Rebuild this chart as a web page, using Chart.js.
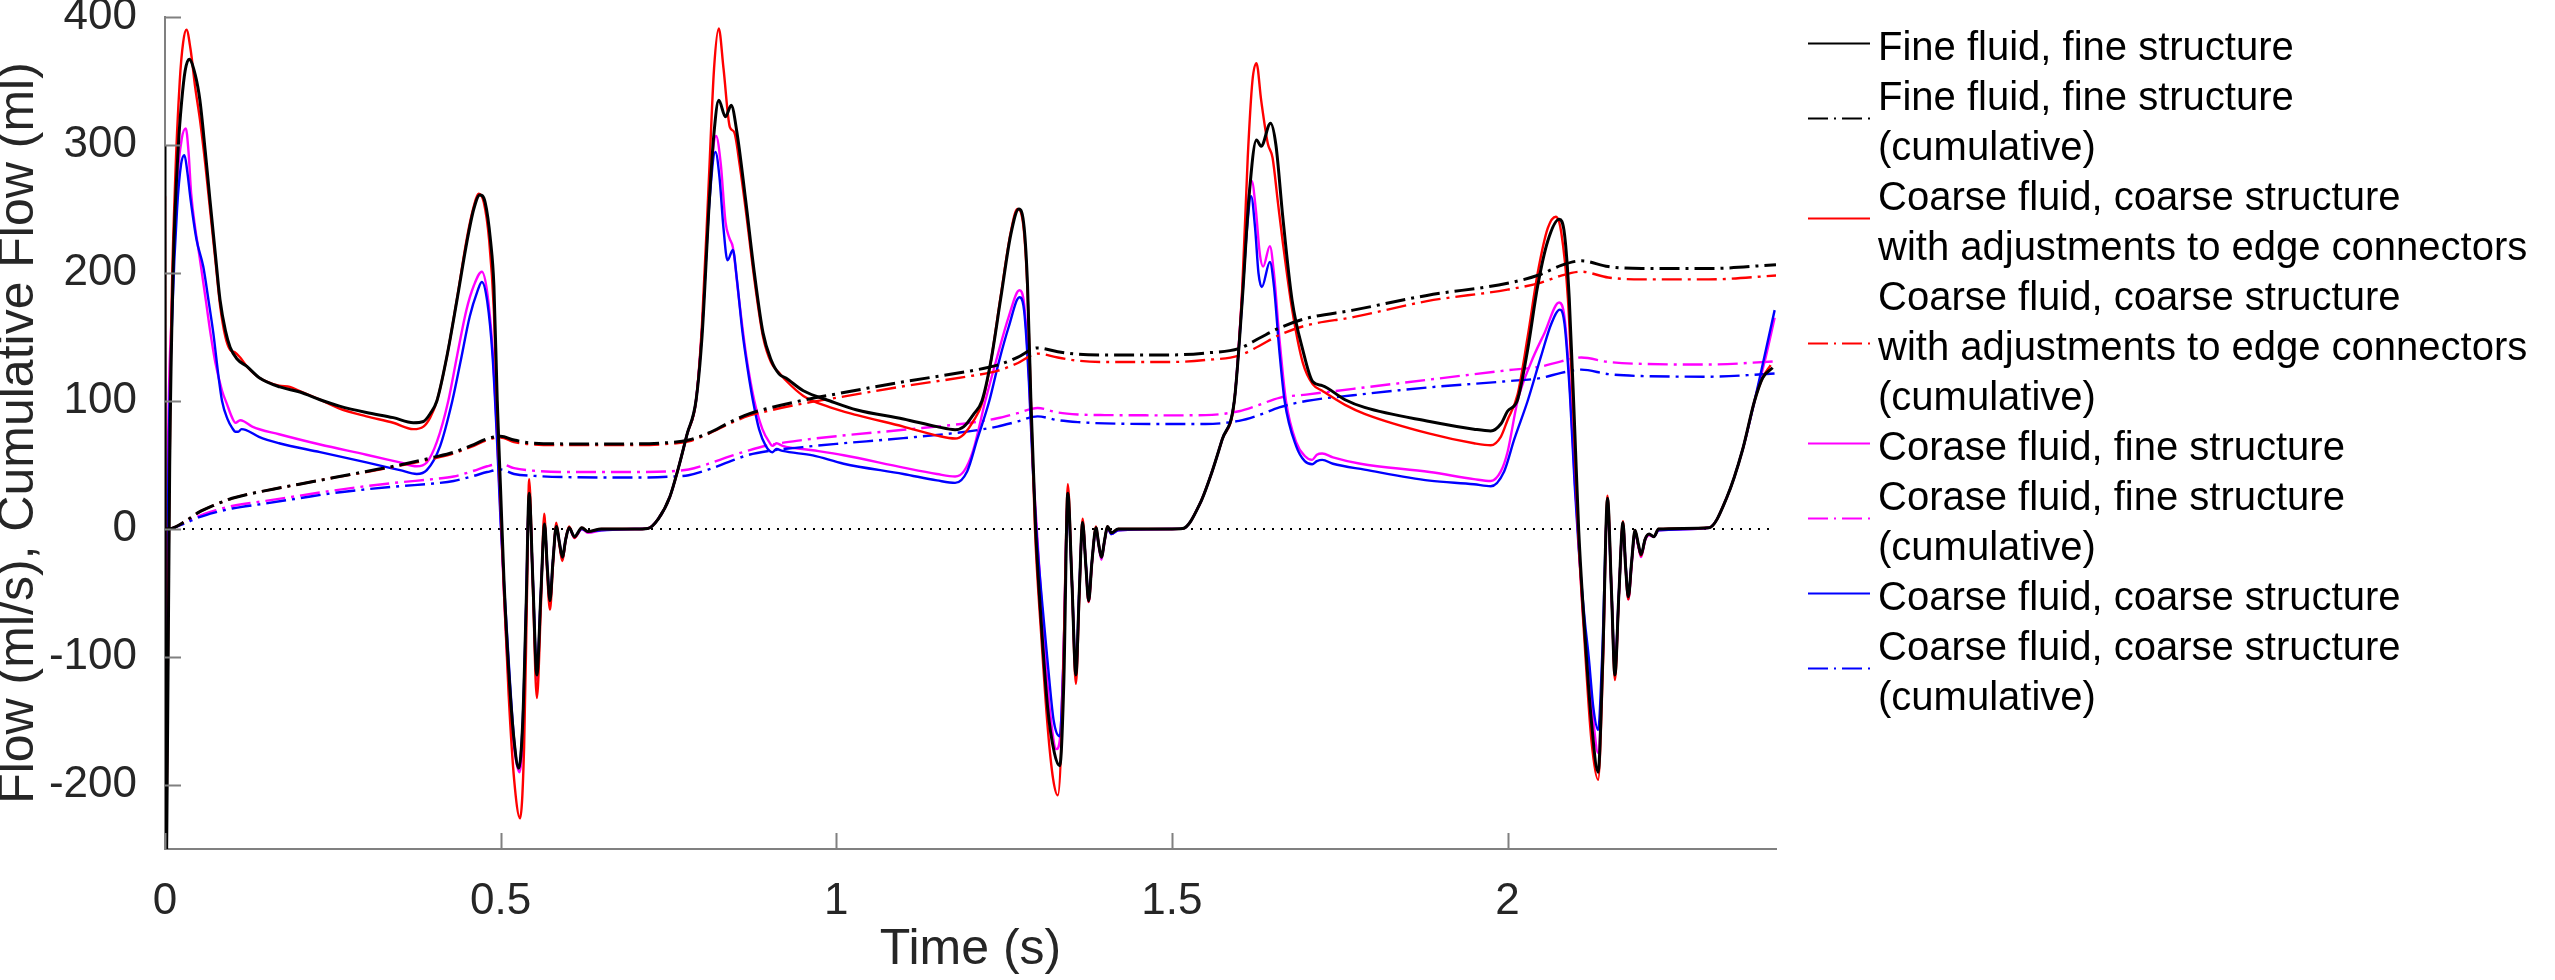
<!DOCTYPE html>
<html>
<head>
<meta charset="utf-8">
<script src="https://cdn.jsdelivr.net/npm/chart.js@4.4.1/dist/chart.umd.min.js"></script>
<style>
  html, body { margin: 0; padding: 0; background: #fff; }
  #wrap { width: 2555px; height: 980px; }
</style>
</head>
<body>
<div id="wrap"><canvas id="flowChart" width="2555" height="980"></canvas></div>
<script>
// ---- data (time in s, flow in ml/s, cumulative in ml) ----
const fineT = [0, 0.001, 0.004, 0.007, 0.012, 0.02, 0.025, 0.03, 0.036, 0.045, 0.052, 0.06, 0.067, 0.075, 0.082, 0.09, 0.097, 0.107, 0.122, 0.141, 0.171, 0.201, 0.231, 0.26, 0.3, 0.34, 0.37, 0.385, 0.395, 0.405, 0.42, 0.435, 0.45, 0.46, 0.469, 0.477, 0.485, 0.49, 0.495, 0.5, 0.505, 0.512, 0.52, 0.527, 0.533, 0.538, 0.5425, 0.548, 0.554, 0.56, 0.5655, 0.5695, 0.5735, 0.578, 0.583, 0.588, 0.592, 0.597, 0.602, 0.61, 0.621, 0.63, 0.65, 0.7, 0.719, 0.735, 0.752, 0.765, 0.778, 0.791, 0.8, 0.811, 0.818, 0.825, 0.835, 0.8435, 0.852, 0.865, 0.878, 0.891, 0.903, 0.915, 0.925, 0.951, 0.991, 1.031, 1.1, 1.15, 1.177, 1.19, 1.205, 1.217, 1.23, 1.245, 1.26, 1.272, 1.28, 1.285, 1.29, 1.297, 1.305, 1.315, 1.325, 1.333, 1.339, 1.345, 1.351, 1.357, 1.362, 1.367, 1.372, 1.376, 1.381, 1.387, 1.391, 1.395, 1.4, 1.404, 1.41, 1.42, 1.5, 1.516, 1.542, 1.56, 1.575, 1.593, 1.605, 1.615, 1.626, 1.633, 1.647, 1.655, 1.665, 1.679, 1.695, 1.71, 1.724, 1.758, 1.787, 1.884, 1.95, 1.975, 1.99, 2.0, 2.015, 2.03, 2.045, 2.06, 2.077, 2.085, 2.092, 2.1, 2.106, 2.115, 2.125, 2.135, 2.142, 2.149, 2.155, 2.16, 2.166, 2.172, 2.176, 2.18, 2.185, 2.19, 2.195, 2.199, 2.205, 2.211, 2.218, 2.225, 2.3, 2.327, 2.35, 2.368, 2.38, 2.395];
const fineFlow = [300, -300, -150, 50, 200, 300, 335, 358, 367, 355, 335, 295, 257, 215, 179, 155, 142, 133, 127, 118, 111, 107, 101, 96, 91, 87, 83, 84, 90, 100, 135, 179, 225, 250, 261, 255, 225, 190, 100, 30, -40, -110, -165, -187, -150, -60, 28, -40, -114, -50, 4, -30, -56, -25, 2, -12, -22, -8, 1, -6, 1, -2, 0, 0, 0.4, 8, 25, 48, 74.5, 100, 150, 257, 310, 335, 322, 331, 310, 257, 200, 153, 132, 121, 118, 108, 100, 93, 86, 80, 77.6, 80, 90, 100, 130, 180, 230, 250, 235, 190, 100, 0, -70, -140, -175, -185, -120, 28, -40, -114, -50, 5, -30, -56, -25, 1, -12, -22, -8, 2, -3, 0, 0, 0.3, 20, 45, 70, 100, 180, 260, 304, 299, 317, 300, 245, 179, 140, 115, 112, 101, 95, 84, 78, 76.6, 82, 92, 101, 140, 190, 225, 242, 230, 180, 80, 0, -80, -150, -190, -100, 24, -50, -114, -50, 5, -30, -53, -25, -1, -12, -20, -8, -4, -6, 0, 1, 25, 61.5, 100, 118, 126];

const adjT = [0, 0.001, 0.005, 0.009, 0.015, 0.022, 0.027, 0.032, 0.038, 0.045, 0.052, 0.06, 0.067, 0.075, 0.082, 0.09, 0.097, 0.104, 0.112, 0.122, 0.141, 0.17, 0.186, 0.2, 0.231, 0.26, 0.3, 0.34, 0.37, 0.385, 0.395, 0.405, 0.42, 0.435, 0.45, 0.46, 0.467, 0.475, 0.483, 0.49, 0.495, 0.5, 0.505, 0.512, 0.52, 0.529, 0.535, 0.539, 0.5425, 0.548, 0.554, 0.56, 0.565, 0.569, 0.5735, 0.578, 0.583, 0.588, 0.592, 0.597, 0.602, 0.61, 0.621, 0.63, 0.65, 0.7, 0.719, 0.735, 0.752, 0.765, 0.778, 0.791, 0.8, 0.81, 0.818, 0.825, 0.832, 0.8415, 0.848, 0.856, 0.865, 0.878, 0.891, 0.903, 0.915, 0.925, 0.951, 0.991, 1.031, 1.1, 1.15, 1.177, 1.19, 1.205, 1.217, 1.23, 1.245, 1.26, 1.27, 1.278, 1.285, 1.29, 1.296, 1.305, 1.315, 1.323, 1.33, 1.337, 1.341, 1.345, 1.351, 1.357, 1.362, 1.367, 1.372, 1.376, 1.381, 1.387, 1.391, 1.395, 1.4, 1.404, 1.41, 1.42, 1.5, 1.516, 1.542, 1.56, 1.575, 1.593, 1.605, 1.613, 1.62, 1.626, 1.633, 1.643, 1.65, 1.658, 1.665, 1.679, 1.695, 1.71, 1.724, 1.758, 1.787, 1.884, 1.95, 1.975, 1.99, 2.0, 2.015, 2.03, 2.045, 2.06, 2.072, 2.08, 2.09, 2.098, 2.105, 2.115, 2.125, 2.135, 2.142, 2.149, 2.155, 2.16, 2.166, 2.172, 2.176, 2.18, 2.185, 2.19, 2.195, 2.199, 2.205, 2.211, 2.218, 2.225, 2.3, 2.327, 2.35, 2.368, 2.38, 2.392];
const adjFlow = [260, -300, -50, 150, 270, 350, 380, 390, 375, 345, 320, 285, 250, 210, 175, 150, 140, 138, 134, 127, 118, 112, 111, 108, 101, 94, 88, 83, 78, 80, 87, 100, 135, 180, 228, 252, 262, 255, 225, 170, 90, 20, -50, -130, -195, -226, -170, -60, 39, -45, -132, -60, 12, -30, -63, -28, 5, -14, -25, -8, 2, -7, 1, -2, 0, 0, 0.4, 8, 25, 48, 74.5, 100, 160, 270, 360, 391, 360, 314, 310, 285, 250, 195, 150, 130, 122, 116, 104, 95, 89, 80, 73, 70.7, 74, 85, 98, 130, 182, 232, 250, 240, 185, 100, 0, -80, -155, -195, -208, -140, -40, 35, -40, -121, -55, 8, -30, -57, -26, 2, -12, -22, -8, 2, -3, 0, 0, 0.3, 20, 45, 70, 100, 190, 290, 350, 364, 335, 301, 290, 255, 225, 172, 130, 113, 108, 97, 90, 74.5, 67, 65.4, 72, 85, 105, 150, 200, 235, 244, 232, 180, 90, 0, -90, -165, -196, -110, 26, -50, -118, -52, 6, -30, -55, -26, -1, -13, -21, -8, -4, -6, 0, 1, 25, 61.5, 100, 118, 128];

const coarseFineT = [0, 0.004, 0.01, 0.018, 0.025, 0.031, 0.035, 0.039, 0.045, 0.05, 0.055, 0.061, 0.068, 0.075, 0.085, 0.092, 0.1, 0.105, 0.112, 0.118, 0.13, 0.17, 0.231, 0.3, 0.35, 0.375, 0.39, 0.405, 0.422, 0.435, 0.449, 0.46, 0.472, 0.48, 0.488, 0.495, 0.5, 0.505, 0.512, 0.52, 0.528, 0.534, 0.538, 0.5425, 0.548, 0.554, 0.56, 0.5655, 0.5695, 0.5735, 0.578, 0.583, 0.588, 0.592, 0.597, 0.602, 0.61, 0.621, 0.63, 0.65, 0.7, 0.719, 0.735, 0.752, 0.765, 0.778, 0.791, 0.8, 0.811, 0.821, 0.828, 0.835, 0.841, 0.846, 0.855, 0.866, 0.878, 0.89, 0.9, 0.905, 0.911, 0.92, 0.965, 1.011, 1.1, 1.15, 1.177, 1.19, 1.204, 1.222, 1.24, 1.257, 1.273, 1.28, 1.287, 1.293, 1.3, 1.31, 1.32, 1.328, 1.334, 1.339, 1.345, 1.351, 1.357, 1.362, 1.367, 1.372, 1.376, 1.381, 1.387, 1.391, 1.395, 1.4, 1.404, 1.41, 1.42, 1.5, 1.516, 1.542, 1.56, 1.575, 1.593, 1.603, 1.612, 1.619, 1.625, 1.631, 1.636, 1.646, 1.652, 1.66, 1.67, 1.685, 1.698, 1.709, 1.716, 1.724, 1.74, 1.781, 1.884, 1.95, 1.975, 1.99, 2.0, 2.015, 2.035, 2.055, 2.077, 2.085, 2.093, 2.1, 2.106, 2.113, 2.12, 2.128, 2.135, 2.142, 2.149, 2.155, 2.16, 2.166, 2.172, 2.176, 2.18, 2.185, 2.19, 2.195, 2.199, 2.205, 2.211, 2.218, 2.225, 2.3, 2.327, 2.35, 2.368, 2.385, 2.398];
const coarseFineFlow = [-300, 40, 170, 270, 305, 313, 295, 262, 235, 218, 200, 178, 152, 130, 108, 98, 87, 83, 85, 84, 80, 74, 66, 58, 52, 49, 52, 68, 100, 135, 171, 190, 201, 185, 140, 70, 10, -50, -120, -170, -190, -150, -60, 25, -40, -118, -50, 3, -30, -57, -25, 2, -12, -24, -8, 1, -7, 0, -3, -1, 0, 0.4, 8, 25, 48, 74.5, 100, 155, 260, 307, 285, 240, 227, 220, 180, 135, 100, 78, 68, 65, 67, 65, 61.5, 57.6, 48, 43, 41, 45, 61.5, 100, 135, 166, 186.5, 175, 120, 50, -10, -90, -150, -172, -160, -90, 25, -40, -115, -50, 4, -30, -57, -26, 0, -13, -24, -9, 1, -4, -1, 0, 0.3, 20, 45, 70, 100, 170, 245, 272, 250, 215, 205, 221, 200, 150, 100, 68, 57, 54, 58, 59, 56, 51, 44.5, 39, 37.5, 45, 60, 100, 130, 153, 177, 165, 110, 40, -10, -70, -100, -150, -175, -100, 20, -50, -112, -50, 4, -30, -55, -28, -3, -14, -22, -9, -5, -6, -1, 1, 25, 61.5, 100, 135, 165];

const coarseT = [0, 0.005, 0.011, 0.018, 0.024, 0.029, 0.033, 0.038, 0.047, 0.057, 0.065, 0.072, 0.08, 0.085, 0.093, 0.1, 0.105, 0.109, 0.114, 0.12, 0.14, 0.17, 0.231, 0.3, 0.35, 0.375, 0.39, 0.41, 0.428, 0.44, 0.454, 0.465, 0.472, 0.48, 0.488, 0.495, 0.5, 0.507, 0.514, 0.521, 0.527, 0.533, 0.538, 0.5425, 0.548, 0.554, 0.56, 0.5655, 0.5695, 0.5735, 0.578, 0.583, 0.588, 0.592, 0.597, 0.602, 0.61, 0.621, 0.63, 0.65, 0.7, 0.719, 0.735, 0.752, 0.765, 0.778, 0.791, 0.8, 0.811, 0.82, 0.826, 0.832, 0.838, 0.846, 0.852, 0.86, 0.868, 0.876, 0.885, 0.895, 0.905, 0.911, 0.92, 0.965, 1.011, 1.1, 1.15, 1.177, 1.195, 1.21, 1.228, 1.242, 1.257, 1.273, 1.28, 1.287, 1.293, 1.3, 1.31, 1.316, 1.324, 1.333, 1.338, 1.345, 1.351, 1.357, 1.362, 1.367, 1.372, 1.376, 1.381, 1.387, 1.391, 1.395, 1.4, 1.404, 1.41, 1.42, 1.5, 1.516, 1.542, 1.56, 1.575, 1.593, 1.603, 1.612, 1.618, 1.624, 1.629, 1.634, 1.646, 1.652, 1.66, 1.668, 1.685, 1.698, 1.709, 1.716, 1.724, 1.74, 1.787, 1.884, 1.95, 1.975, 1.995, 2.01, 2.03, 2.05, 2.065, 2.078, 2.085, 2.093, 2.1, 2.106, 2.115, 2.121, 2.128, 2.135, 2.141, 2.149, 2.155, 2.16, 2.166, 2.172, 2.176, 2.18, 2.185, 2.19, 2.195, 2.199, 2.205, 2.211, 2.218, 2.225, 2.3, 2.327, 2.35, 2.368, 2.385, 2.398];
const coarseFlow = [-300, 40, 170, 250, 285, 292, 280, 258, 226, 205, 178, 153, 118, 100, 86, 79, 76, 76, 78, 77.5, 72, 67, 60, 52, 46, 43, 46, 65, 100, 130, 166, 185, 193, 178, 135, 65, 5, -60, -120, -170, -186, -150, -60, 25, -40, -112, -50, 3, -30, -55, -25, 1, -12, -23, -8, 1, -6, 0, -2, -1, 0, 0.4, 8, 25, 48, 74.5, 100, 155, 255, 294.5, 275, 235, 210, 218, 195, 155, 125, 100, 78, 65, 60, 62.5, 61, 57.5, 51, 43, 38, 36, 45, 70, 100, 130, 158, 181, 170, 115, 45, -15, -76, -110, -150, -162, -110, 22, -40, -110, -48, 3, -28, -54, -25, 0, -12, -22, -8, 1, -4, -1, 0, 0.3, 20, 45, 70, 100, 165, 235, 260, 235, 200, 189, 208.6, 190, 140, 100, 65, 53, 50.6, 53, 54, 51, 46.4, 37.8, 35, 33.4, 45, 70, 100, 135, 160, 171.4, 160, 105, 35, -15, -71, -100, -140, -157, -100, 18, -50, -110, -50, 3, -28, -52, -25, -2, -13, -20, -8, -4, -6, -1, 1, 25, 61.5, 100, 140, 171];

// cumulative flows share one time grid
const cumT = [0, 0.01, 0.03, 0.05, 0.075, 0.1, 0.15, 0.2, 0.25, 0.3, 0.35, 0.4, 0.43, 0.46, 0.48, 0.5, 0.52, 0.55, 0.6, 0.7, 0.75, 0.78, 0.81, 0.84, 0.87, 0.9, 0.95, 1.0, 1.1, 1.2, 1.24, 1.27, 1.3, 1.33, 1.36, 1.4, 1.5, 1.55, 1.6, 1.63, 1.66, 1.7, 1.77, 1.88, 2.0, 2.05, 2.08, 2.11, 2.15, 2.2, 2.3, 2.4];
const fineCum = [0, 0.5, 6, 13, 19, 24, 30, 35, 40, 45, 50, 56, 60, 66, 70.5, 72.5, 69.5, 67, 66.5, 66.5, 67.5, 69.5, 75, 83, 90, 94.5, 100.5, 105.5, 115, 123.5, 128, 134, 141.5, 138.5, 136.5, 136, 136, 137.5, 141, 149, 157, 164.5, 171, 182.5, 192, 199, 206, 209.5, 205, 203.5, 203.5, 206.5];
const adjCum = [0, 0.5, 6, 13, 19, 24, 30, 35, 40, 44.5, 49.5, 55, 59, 65, 69.5, 71.5, 68, 66, 65.5, 65.5, 66.5, 68.5, 74.5, 82, 88.5, 92.5, 98, 102.5, 111.5, 119.5, 123.5, 129.5, 137, 134, 131.5, 130.5, 130.5, 132, 135.5, 143, 151.5, 159, 165.5, 178, 187, 192.5, 198, 201, 196.5, 195, 195, 198];
const coarseFineCum = [0, 0.5, 5, 10, 14.5, 18, 22, 26, 30, 33.5, 36.5, 39, 41, 45.5, 49, 51, 47.5, 45.5, 44.5, 44.5, 45, 46.5, 51, 56.5, 61.5, 65.5, 69.5, 72.5, 77.5, 83, 86.5, 90.5, 94.5, 91, 89.5, 89, 88.8, 89, 92, 97, 102.5, 105, 109.5, 116.5, 124, 127, 131, 134, 130.5, 129, 128.5, 131];
const coarseCum = [0, 0.5, 4.5, 9, 13, 16, 20, 24, 28, 31, 33.5, 35.5, 37.5, 41.5, 44.5, 46.5, 43, 41.5, 40.5, 40.2, 40.8, 42, 46.5, 52.5, 58, 61, 64, 66.5, 71, 76.5, 80, 84, 88, 85, 83.5, 82.5, 82, 82, 84.5, 89, 95, 100, 104.5, 110.5, 115.5, 118, 122, 124.5, 121, 119.5, 119, 121.5];

const zeroT = [0, 2.4];
const zeroV = [0, 0];

const yTicks = [-200, -100, 0, 100, 200, 300, 400];
const xTicks = [0, 0.5, 1, 1.5, 2];

const FONT = '"Liberation Sans", Arial, Helvetica, sans-serif';
Chart.defaults.font.family = FONT;

function pts(ts, vs) {
  return ts.map((t, i) => ({ x: t, y: vs[i] }));
}

const dashDot = [20, 6, 3, 6];

function series(label, ts, vs, color, width, dashed, order) {
  return {
    label: label,
    data: pts(ts, vs),
    borderColor: color,
    borderWidth: width,
    borderDash: dashed ? dashDot : [],
    pointRadius: 0,
    fill: false,
    cubicInterpolationMode: 'monotone',
    order: order
  };
}

const datasets = [
  series('Fine fluid, fine structure', fineT, fineFlow, '#000000', 3, false, 0),
  series('Fine fluid, fine structure\n(cumulative)', cumT, fineCum, '#000000', 3, true, 0),
  series('Coarse fluid, coarse structure\nwith adjustments to edge connectors', adjT, adjFlow, '#ff0000', 2.4, false, 1),
  series('Coarse fluid, coarse structure\nwith adjustments to edge connectors\n(cumulative)', cumT, adjCum, '#ff0000', 2.4, true, 1),
  series('Corase fluid, fine structure', coarseFineT, coarseFineFlow, '#ff00ff', 2.4, false, 3),
  series('Corase fluid, fine structure\n(cumulative)', cumT, coarseFineCum, '#ff00ff', 2.4, true, 3),
  series('Coarse fluid, coarse structure', coarseT, coarseFlow, '#0000ff', 2.4, false, 2),
  series('Coarse fluid, coarse structure\n(cumulative)', cumT, coarseCum, '#0000ff', 2.4, true, 2),
  {
    label: '',
    data: pts(zeroT, zeroV),
    borderColor: '#000000',
    borderWidth: 2,
    borderDash: [2, 7],
    pointRadius: 0,
    order: 5
  }
];

// inward tick marks like the original axes
const insideTicks = {
  id: 'insideTicks',
  afterDraw(chart) {
    const { ctx, chartArea, scales } = chart;
    ctx.save();
    ctx.strokeStyle = '#808080';
    ctx.lineWidth = 2;
    ctx.beginPath();
    xTicks.forEach(v => {
      const x = Math.round(scales.x.getPixelForValue(v)) + 0.5;
      ctx.moveTo(x, chartArea.bottom);
      ctx.lineTo(x, chartArea.bottom - 16);
    });
    yTicks.forEach(v => {
      const y = Math.round(scales.y.getPixelForValue(v)) + 0.5;
      ctx.moveTo(chartArea.left, y);
      ctx.lineTo(chartArea.left + 16, y);
    });
    ctx.stroke();
    ctx.restore();
  }
};

// legend on the right, with wrapped entries
const sideLegend = {
  id: 'sideLegend',
  afterDraw(chart) {
    const ctx = chart.ctx;
    const x0 = chart.chartArea.right + 32;
    ctx.save();
    ctx.font = '40px ' + FONT;
    ctx.fillStyle = '#000000';
    ctx.textBaseline = 'alphabetic';
    let row = 0;
    chart.data.datasets.forEach(ds => {
      if (!ds.label) return;
      const lines = ds.label.split('\n');
      const base = 60 + 50 * row;
      lines.forEach((s, i) => ctx.fillText(s, x0 + 70, base + 50 * i));
      const ly = Math.round(base + 25 * (lines.length - 1) - 17) + 0.5;
      ctx.strokeStyle = ds.borderColor;
      ctx.lineWidth = 2;
      ctx.setLineDash(ds.borderDash.length ? [20, 6, 2, 6] : []);
      ctx.beginPath();
      ctx.moveTo(x0, ly);
      ctx.lineTo(x0 + 62, ly);
      ctx.stroke();
      row += lines.length;
    });
    ctx.restore();
  }
};

new Chart(document.getElementById('flowChart'), {
  type: 'line',
  data: { datasets: datasets },
  options: {
    responsive: false,
    devicePixelRatio: 1,
    animation: false,
    layout: { padding: { top: 17, right: 779, bottom: 0, left: 0 } },
    plugins: {
      legend: { display: false },
      tooltip: { enabled: false }
    },
    scales: {
      x: {
        type: 'linear',
        min: 0,
        max: 2.4,
        afterBuildTicks: s => { s.ticks = xTicks.map(v => ({ value: v })); },
        afterFit: s => { s.height = 131; s.paddingLeft = 0; s.paddingRight = 0; },
        grid: { display: false },
        border: { display: true, color: '#808080', width: 2 },
        ticks: {
          color: '#262626',
          font: { size: 44 },
          padding: 18,
          maxRotation: 0,
          autoSkip: false,
          callback: v => String(Math.round(v * 10) / 10)
        },
        title: {
          display: true,
          text: 'Time (s)',
          color: '#262626',
          font: { size: 50 },
          padding: { top: 0, bottom: 0 }
        }
      },
      y: {
        type: 'linear',
        min: -250,
        max: 400,
        afterBuildTicks: s => { s.ticks = yTicks.map(v => ({ value: v })); },
        afterFit: s => { s.width = 165; s.paddingTop = 0; s.paddingBottom = 0; },
        grid: { display: false },
        border: { display: true, color: '#808080', width: 2 },
        ticks: {
          color: '#262626',
          font: { size: 44 },
          padding: 20,
          autoSkip: false,
          callback: v => String(v)
        },
        title: {
          display: true,
          text: 'Flow (ml/s), Cumulative Flow (ml)',
          color: '#262626',
          font: { size: 50, lineHeight: 0.7 },
          padding: { top: 2, bottom: 0 }
        }
      }
    }
  },
  plugins: [insideTicks, sideLegend]
});
</script>
</body>
</html>
